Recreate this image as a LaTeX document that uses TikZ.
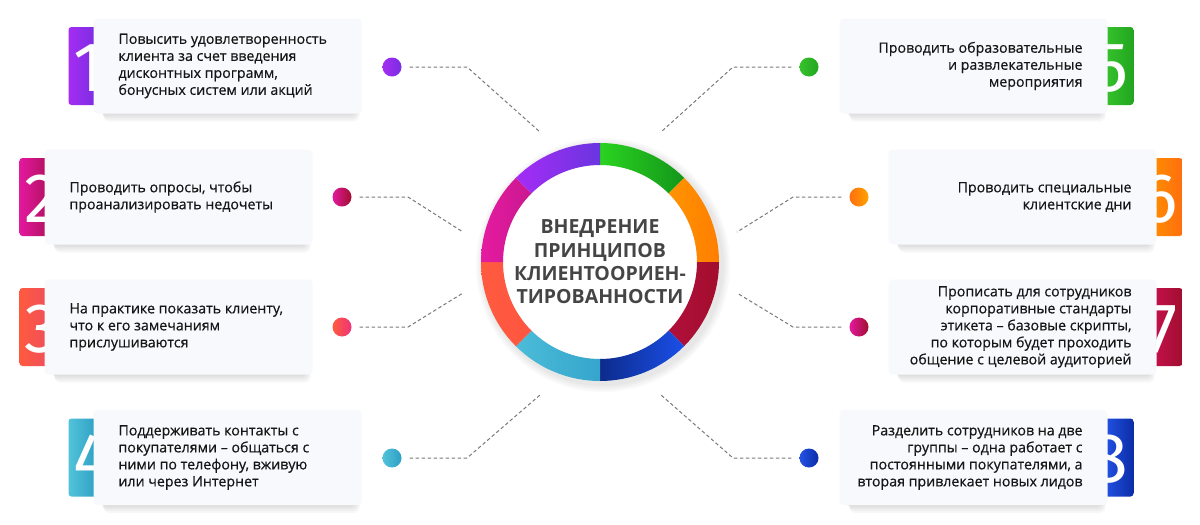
\documentclass[tikz,border=0pt]{standalone}
\usepackage{fontspec}
\setmainfont{Open Sans}
\newfontfamily\cardfont{Open Sans}[FakeBold=0.45]
\newfontfamily\numfont{Fira Sans}
\usetikzlibrary{positioning}

\tikzset{
    card/.style={rectangle, rounded corners=4pt, fill=cardFill, minimum width=268pt, minimum height=95pt, inner sep=0pt},
    tab/.style={rectangle, rounded corners=3pt, minimum width=29pt, minimum height=78pt, inner sep=0pt},
    numeral/.style={text=white, inner sep=0pt, font=\numfont\fontsize{70}{70}\selectfont},
    lefttext/.style={anchor=west, align=left, inner sep=0pt, text=textDark, font=\cardfont\fontsize{14.2}{17}\selectfont},
    righttext/.style={anchor=east, align=right, inner sep=0pt, text=textDark, font=\cardfont\fontsize{14.2}{17}\selectfont},
    dot/.style={circle, minimum size=19pt, inner sep=0pt},
    link/.style={draw=linkGrey, line width=1pt, dash pattern=on 3.5pt off 2.5pt, shorten <=8pt},
    hub/.style={circle, fill=white, minimum size=194pt, inner sep=0pt, align=center, text=hubText, font=\bfseries\fontsize{19.5}{23.4}\selectfont}
}

\begin{document}
\begin{tikzpicture}[x=1pt, y=-1pt]
    \definecolor{cardFill}{HTML}{F7F9FC}
    \definecolor{textDark}{HTML}{161616}
    \definecolor{hubText}{HTML}{454545}
    \definecolor{linkGrey}{HTML}{7A7A7A}

    \definecolor{tabA1}{HTML}{A42DF2} \definecolor{tabB1}{HTML}{7A2DE2}
    \definecolor{tabA2}{HTML}{E3199E} \definecolor{tabB2}{HTML}{B1105F}
    \definecolor{tabA3}{HTML}{FF5A3E} \definecolor{tabB3}{HTML}{EE4F5C}
    \definecolor{tabA4}{HTML}{52C3DA} \definecolor{tabB4}{HTML}{2E9EC4}
    \definecolor{tabA5}{HTML}{36C22C} \definecolor{tabB5}{HTML}{22A620}
    \definecolor{tabA6}{HTML}{FF8C00} \definecolor{tabB6}{HTML}{FF6E10}
    \definecolor{tabA7}{HTML}{C4114B} \definecolor{tabB7}{HTML}{A10E2F}
    \definecolor{tabA8}{HTML}{2352E5} \definecolor{tabB8}{HTML}{0B2DA6}

    \useasboundingbox[fill=white] (0,0) rectangle (1200,525);

    % cards with their number tabs
    \foreach \n/\cx/\cy/\tx/\nx/\anc in {
        1/227.5/66/83/73.5/base west, 2/178.5/197/34/24.5/base west,
        3/178.5/327/34/24.5/base west, 4/227.5/457.5/83/73.5/base west,
        5/973.5/66/1119/1128.5/base east, 6/1022.5/197/1168/1177.5/base east,
        7/1022.5/327/1168/1177.5/base east, 8/973.5/457.5/1119/1128.5/base east}{
        \foreach \s in {1,...,4}
            \fill[black, opacity=0.03, rounded corners=6pt] (\cx-128+\s,\cy+20) rectangle (\cx+128+\s,\cy+47.5+\s*2);
        \node[tab, left color=tabA\n, right color=tabB\n] (t\n) at (\tx,\cy) {};
        \node[numeral, anchor=\anc] (n\n) at (\nx,\cy+25) {\n};
        \node[card] (c\n) at (\cx,\cy) {};
    }

    \node[lefttext, right=25pt of c1.west] (x1) {Повысить удовлетворенность\\клиента за счет введения\\дисконтных программ,\\бонусных систем или акций};
    \node[lefttext, right=25pt of c2.west] (x2) {Проводить опросы, чтобы\\проанализировать недочеты};
    \node[lefttext, right=25pt of c3.west] (x3) {На практике показать клиенту,\\что к его замечаниям\\прислушиваются};
    \node[lefttext, right=25pt of c4.west] (x4) {Поддерживать контакты с\\покупателями – общаться с\\ними по телефону, вживую\\или через Интернет};
    \node[righttext, left=25pt of c5.east] (x5) {Проводить образовательные\\и развлекательные\\мероприятия};
    \node[righttext, left=25pt of c6.east] (x6) {Проводить специальные\\клиентские дни};
    \node[righttext, left=25pt of c7.east] (x7) {Прописать для сотрудников\\корпоративные стандарты\\этикета – базовые скрипты,\\по которым будет проходить\\общение с целевой аудиторией};
    \node[righttext, left=25pt of c8.east] (x8) {Разделить сотрудников на две\\группы – одна работает с\\постоянными покупателями, а\\вторая привлекает новых лидов};

    % ring in the middle
    \foreach \r in {121,123,125,127}
        \fill[black, opacity=0.025] (603,265) circle[radius=\r];
    \node[hub] (hub) at (600,262) {ВНЕДРЕНИЕ\\ПРИНЦИПОВ\\КЛИЕНТООРИЕН-\\ТИРОВАННОСТИ};
    \begin{scope}[shift={(600,262)}]
        \foreach \a/\ca/\cb in {-90/2BD320/13961A, -45/FF9400/FF7E00, 0/B0103C/A30D2C, 45/0D2B8C/1A4FE8,
                                90/4BBCD8/36A5CC, 135/FF5A40/FF5540, 180/E61BA0/C81890, 225/A52CF5/6A35E0}{
            \definecolor{segA}{HTML}{\ca}
            \definecolor{segB}{HTML}{\cb}
            \shade[left color=segA, right color=segB] (\a:119) arc[start angle=\a, end angle=\a+45, radius=119]
                -- (\a+45:97) arc[start angle=\a+45, end angle=\a, radius=97] -- cycle;
        }
    \end{scope}

    % dots and dashed leaders
    \node[dot, left color=tabA1, right color=tabB1] (d1) at (392,67) {};
    \node[dot, left color=tabA2, right color=tabB7] (d2) at (342,197) {};
    \node[dot, left color=tabA3, right color=tabA2!60!tabA3] (d3) at (342,327) {};
    \node[dot, left color=tabA4, right color=tabB4] (d4) at (392,458) {};
    \node[dot, left color=tabA5, right color=tabB5] (d5) at (809,67) {};
    \node[dot, left color=tabB6, right color=tabA6!80!yellow] (d6) at (859,197) {};
    \node[dot, left color=tabA2, right color=tabB7] (d7) at (859,327) {};
    \node[dot, left color=tabA8, right color=tabB8] (d8) at (809,458) {};

    \coordinate (k1) at (467,67);  \coordinate (e1) at (540,132);
    \coordinate (k2) at (408,197); \coordinate (e2) at (463,232);
    \coordinate (k3) at (408,327); \coordinate (e3) at (463,293);
    \coordinate (k4) at (467,458); \coordinate (e4) at (540,395);
    \coordinate (k5) at (733,67);  \coordinate (e5) at (661,132);
    \coordinate (k6) at (793,197); \coordinate (e6) at (737,232);
    \coordinate (k7) at (793,327); \coordinate (e7) at (737,293);
    \coordinate (k8) at (733,458); \coordinate (e8) at (661,395);

    \foreach \i in {1,...,8}
        \draw[link] (d\i) -- (k\i) -- (e\i);

\end{tikzpicture}
\end{document}
